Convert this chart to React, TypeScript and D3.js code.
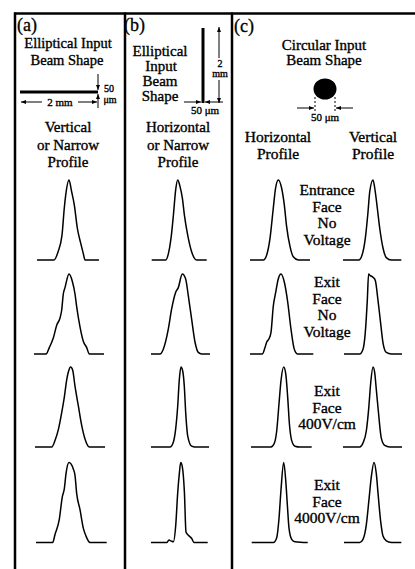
import React from 'react';
import * as d3 from 'd3';

// beam profiles: [offset from peak, normalised intensity]
const a1 = [[-32,0],[-15,0],[-11,.10],[-7,.31],[-4.7,.65],[-3.3,.81],[0,1],[2.7,.85],[5.3,.69],[8.3,.40],[11.7,.21],[14.3,.08],[16,0],[30,0]];
const a2 = [[-35,0],[-23,0],[-19.7,.08],[-15.7,.20],[-12.3,.36],[-9,.45],[-7.3,.55],[-5.7,.75],[-4,.83],[0,1],[3.3,.91],[6,.75],[7.7,.59],[11,.34],[14.3,.16],[17.7,.08],[20.3,0],[35,0]];
const a3 = [[-35.7,0],[-19,0],[-15.7,.08],[-12.3,.22],[-9,.43],[-6.3,.63],[-4,.84],[-2.3,.94],[0,1],[2,.96],[4.3,.76],[7.7,.51],[11,.27],[14.3,.10],[18.7,0],[34.3,0]];
const a4 = [[-33,0],[-16.3,0],[-14,.10],[-9.7,.29],[-6.7,.57],[-4.7,.67],[-3,.86],[0,1],[4.3,.92],[6,.84],[7.7,.61],[11,.41],[14.3,.18],[17,.08],[21,0],[37.7,0]];
const b1 = [[-26,0],[-12,0],[-9.3,.08],[-6.7,.27],[-4.3,.56],[-2,.88],[0,1],[2.3,.92],[4.7,.77],[6.7,.56],[10,.31],[14,.10],[19,0],[29,0]];
const b2 = [[-31.3,0],[-22.3,0],[-19,.06],[-14,.31],[-10.7,.56],[-6.7,.77],[-4,.83],[0,1],[3.3,.94],[6,.73],[9.3,.44],[12.7,.15],[16,.02],[19.3,0],[27.7,0]];
const b3 = [[-30,0],[-11,0],[-7.7,.06],[-5.3,.23],[-3.3,.51],[-1.7,.84],[0,1],[1.7,.95],[3.3,.76],[4.7,.43],[6.7,.14],[10.7,.01],[14,0],[28,0]];
const b4 = [[-29.7,0],[-14,0],[-11.7,.03],[-9.7,.02],[-7.3,.01],[-5,.21],[-3,.62],[-1.3,.87],[0,1],[1.7,.94],[3.7,.63],[5.3,.13],[7.7,.09],[11,.05],[13.3,0],[27,0]];
const ch1 = [[-28.3,0],[-15,0],[-11.7,.06],[-8.3,.27],[-5,.65],[-2.7,.90],[0,1],[3.3,.90],[6,.69],[8.3,.42],[11.7,.17],[15,.04],[20,0],[31.7,0]];
const ch2 = [[-31,0],[-18.7,0],[-16,.08],[-14.3,.15],[-12,.19],[-10,.27],[-7.7,.60],[-5.3,.77],[-2.7,.94],[0,1],[3.3,.90],[6.7,.65],[10,.31],[13.3,.06],[16.7,0],[32.3,0]];
const ch3 = [[-32.7,0],[-12.7,0],[-9.3,.05],[-7,.20],[-4.7,.54],[-2.7,.83],[0,1],[2,.92],[4,.62],[5.7,.29],[8,.08],[11.3,.01],[16.3,0],[28,0]];
const ch4 = [[-32,0],[-10.3,0],[-7,.06],[-4.7,.30],[-2.7,.66],[0,1],[2,.78],[3.7,.46],[5.3,.18],[8,.04],[11.3,.01],[24,0]];
const cv1 = [[-30,0],[-14.3,0],[-11,.06],[-7.7,.27],[-5,.60],[-3.3,.85],[0,1],[2.3,.85],[4.3,.65],[6.7,.40],[10,.15],[13.3,.03],[18.3,0],[28.3,0]];
const cv2 = [[-27.3,0],[-11.7,0],[-8.3,.06],[-6,.27],[-4,.67],[-2.7,1],[-1,.98],[1.7,.96],[4,.92],[6.7,.67],[9.3,.39],[11.7,.14],[15,.02],[20,0],[30.7,0]];
const cv3 = [[-30,0],[-13.3,0],[-10,.05],[-6.7,.20],[-4.3,.48],[-2.3,.80],[0,1],[1.7,.93],[3.3,.72],[5.7,.40],[8.3,.11],[11.7,.02],[16.7,0],[29,0]];
const cv4 = [[-30,0],[-14.3,0],[-11,.04],[-7.7,.22],[-5,.54],[-2.7,.82],[0,1],[2.3,.86],[4,.62],[6.7,.26],[9,.08],[12.3,.02],[17.3,0],[27.3,0]];

// peak positions (page x) for each column, row by row
const peaksA = [69, 69, 70.7, 69];
const peaksB = [177.7, 182.3, 181, 180.7];
const peaksCH = [278.3, 281, 283.7, 283.7];
const peaksCV = [373, 371.3, 373, 374];
const baselines = [260, 354, 447, 542.5];

const columns = [
  { profiles: [a1, a2, a3, a4], peaks: peaksA },
  { profiles: [b1, b2, b3, b4], peaks: peaksB },
  { profiles: [ch1, ch2, ch3, ch4], peaks: peaksCH },
  { profiles: [cv1, cv2, cv3, cv4], peaks: peaksCV },
];

const rowLabels = [
  ['Entrance', 'Face', 'No', 'Voltage'],
  ['Exit', 'Face', 'No', 'Voltage'],
  ['Exit', 'Face', '400V/cm'],
  ['Exit', 'Face', '4000V/cm'],
];
const rowLabelTops = [195, 287, 396, 490];

const W = 415, H = 569;
const font = 'Liberation Serif, Times New Roman, serif';

function Arrow({ x1, y1, x2, y2 }: { x1: number; y1: number; x2: number; y2: number }) {
  return <line x1={x1} y1={y1} x2={x2} y2={y2} stroke="#000" strokeWidth={1} markerEnd="url(#ah)" />;
}

export default function App() {
  const y = d3.scaleLinear().domain([0, 1]).range([0, -80]);
  const line = d3.line<number[]>()
    .x(d => d[0])
    .y(d => y(d[1]))
    .curve(d3.curveMonotoneX);

  const T = (x: number, yy: number, s: string, size = 15) => (
    <text x={x} y={yy} textAnchor="middle" style={{ fontFamily: font, fontSize: size }}
      stroke="#000" strokeWidth={0.35}>{s}</text>
  );

  return (
    <svg width={W} height={H} style={{ position: 'absolute', left: 0, top: 0, background: '#fff' }}>
      <defs>
        <marker id="ah" viewBox="0 0 10 10" refX="10" refY="5" markerWidth="5" markerHeight="5" orient="auto">
          <path d="M0,1L10,5L0,9z" fill="#000" />
        </marker>
      </defs>
      <rect width={W} height={H} fill="#fff" />

      {/* frame */}
      <line x1={14} y1={13.5} x2={W} y2={13.5} stroke="#000" strokeWidth={2.5} />
      {[15, 125, 232].map(x => (
        <line key={x} x1={x} y1={12.5} x2={x} y2={H} stroke="#000" strokeWidth={2.5} />
      ))}

      {/* panel labels */}
      <text x={17} y={31} style={{ fontFamily: font, fontSize: 18 }} stroke="#000" strokeWidth={0.3}>(a)</text>
      <text x={124} y={31} style={{ fontFamily: font, fontSize: 18 }} stroke="#000" strokeWidth={0.3}>(b)</text>
      <text x={234} y={32} style={{ fontFamily: font, fontSize: 18 }} stroke="#000" strokeWidth={0.3}>(c)</text>

      {/* panel a header */}
      {T(68, 48, 'Elliptical Input', 14.5)}
      {T(67, 65, 'Beam Shape', 14.5)}
      <line x1={20} y1={92} x2={98} y2={92} stroke="#000" strokeWidth={3} />
      <Arrow x1={98} y1={74} x2={98} y2={90} />
      <Arrow x1={98} y1={108} x2={98} y2={94} />
      {T(109, 92, '50', 10)}
      {T(110, 103, 'μm', 10)}
      <Arrow x1={42} y1={102} x2={21} y2={102} />
      <Arrow x1={78} y1={102} x2={97} y2={102} />
      {T(60, 106, '2 mm', 11)}
      {T(68, 132, 'Vertical')}
      {T(68, 150, 'or Narrow')}
      {T(68, 167, 'Profile')}

      {/* panel b header */}
      {T(160, 56, 'Elliptical')}
      {T(161, 71, 'Input')}
      {T(160, 86, 'Beam')}
      {T(160, 101, 'Shape')}
      <line x1={203} y1={28} x2={203} y2={103} stroke="#000" strokeWidth={3} />
      <Arrow x1={219} y1={58} x2={219} y2={27} />
      <Arrow x1={219} y1={80} x2={219} y2={103} />
      {T(220, 67, '2', 10)}
      {T(220, 77, 'mm', 10)}
      <Arrow x1={184} y1={102} x2={201} y2={102} />
      <Arrow x1={223} y1={102} x2={205} y2={102} />
      {T(205, 114, '50 μm', 11)}
      {T(178, 132, 'Horizontal')}
      {T(178, 150, 'or Narrow')}
      {T(178, 167, 'Profile')}

      {/* panel c header */}
      {T(324, 50, 'Circular Input')}
      {T(324, 65, 'Beam Shape')}
      <ellipse cx={325} cy={89} rx={11.5} ry={10.5} fill="#000" />
      <line x1={315} y1={97} x2={315} y2={111} stroke="#000" strokeWidth={1} strokeDasharray="2,2" />
      <line x1={335} y1={97} x2={335} y2={111} stroke="#000" strokeWidth={1} strokeDasharray="2,2" />
      <Arrow x1={297} y1={108} x2={314} y2={108} />
      <Arrow x1={353} y1={108} x2={336} y2={108} />
      {T(325, 121, '50 μm', 11)}
      {T(278, 142, 'Horizontal', 15.5)}
      {T(373, 142, 'Vertical', 15.5)}
      {T(278, 159, 'Profile', 15.5)}
      {T(373, 159, 'Profile', 15.5)}

      {rowLabels.map((lines, r) => (
        <g key={r}>
          {lines.map((s, i) => (
            <React.Fragment key={i}>{T(327, rowLabelTops[r] + i * 16.5, s, 15.5)}</React.Fragment>
          ))}
        </g>
      ))}

      {/* profiles */}
      {columns.map((col, c) => (
        <g key={c}>
          {col.profiles.map((p, r) => {
            const x = d3.scaleLinear().domain([-40, 40]).range([col.peaks[r] - 40, col.peaks[r] + 40]);
            const pts = p.map(d => [x(d[0]), d[1]]);
            return (
              <path key={r} d={line(pts) ?? ''} transform={`translate(0,${baselines[r]})`}
                fill="none" stroke="#000" strokeWidth={1.5} />
            );
          })}
        </g>
      ))}
    </svg>
  );
}
